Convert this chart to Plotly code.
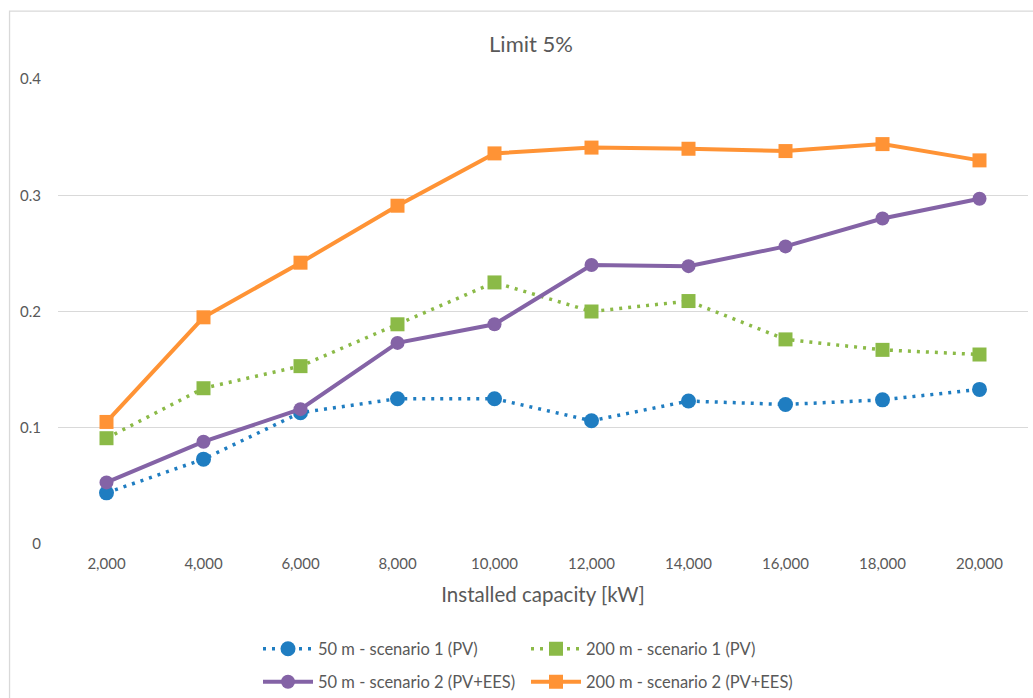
import plotly.graph_objects as go

capacity = ["2,000", "4,000", "6,000", "8,000", "10,000",
            "12,000", "14,000", "16,000", "18,000", "20,000"]

s1_50m = [0.044, 0.073, 0.113, 0.125, 0.125, 0.106, 0.123, 0.120, 0.124, 0.133]
s1_200m = [0.091, 0.134, 0.153, 0.189, 0.225, 0.200, 0.209, 0.176, 0.167, 0.163]
s2_50m = [0.053, 0.088, 0.116, 0.173, 0.189, 0.240, 0.239, 0.256, 0.280, 0.297]
s2_200m = [0.105, 0.195, 0.242, 0.291, 0.336, 0.341, 0.340, 0.338, 0.344, 0.330]

names = ["50 m - scenario 1 (PV)", "200 m - scenario 1 (PV)",
         "50 m - scenario 2 (PV+EES)", "200 m - scenario 2 (PV+EES)"]

BLUE = "#1F7DC1"
GREEN = "#8BBA47"
PURPLE = "#8463A6"
ORANGE = "#FF9335"
GRAY = "#595959"
FONT = "Lato"

fig = go.Figure()
fig.add_trace(go.Scatter(
    x=capacity, y=s1_50m, name=names[0], mode="lines+markers",
    line=dict(color=BLUE, width=3.5, dash="3px,6px"),
    marker=dict(symbol="circle", size=15, color=BLUE),
    legend="legend", showlegend=True))
fig.add_trace(go.Scatter(
    x=capacity, y=s1_200m, name=names[1], mode="lines+markers",
    line=dict(color=GREEN, width=3.5, dash="3px,6px"),
    marker=dict(symbol="square", size=14, color=GREEN),
    legend="legend2", showlegend=True))
fig.add_trace(go.Scatter(
    x=capacity, y=s2_50m, name=names[2], mode="lines+markers",
    line=dict(color=PURPLE, width=4),
    marker=dict(symbol="circle", size=14, color=PURPLE),
    legend="legend3", showlegend=True))
fig.add_trace(go.Scatter(
    x=capacity, y=s2_200m, name=names[3], mode="lines+markers",
    line=dict(color=ORANGE, width=4),
    marker=dict(symbol="square", size=14, color=ORANGE),
    legend="legend4", showlegend=True))

W, H = 1033, 698
L, R, T, B = 57.5, 4.5, 79, 153.7
pw = W - L - R
ph = H - T - B


def px_x(px):
    return (px - L) / pw


def px_y(py):
    return (H - B - py) / ph


def legend_at(px, py):
    # one legend box per entry, placed in a 2x2 grid below the axis
    return dict(
        x=px / W, y=1 - py / H, orientation="h",
        xanchor="left", yanchor="middle",
        xref="container", yref="container",
        font=dict(family=FONT, size=16.5, color=GRAY),
        bgcolor="rgba(0,0,0,0)", itemwidth=50, visible=True,
    )


col1, col2 = 258, 526
row1, row2 = 649, 682

fig.update_layout(
    width=W, height=H, showlegend=True,
    margin=dict(l=L, r=R, t=T, b=B, pad=0, autoexpand=False),
    paper_bgcolor="white", plot_bgcolor="white",
    font=dict(family=FONT, color=GRAY),
    title=dict(text="Limit 5%", x=px_x(531), xref="paper", xanchor="center",
               y=1 - 44 / H, yanchor="middle",
               font=dict(family=FONT, size=22, color=GRAY)),
    xaxis=dict(type="category", range=[-0.5, 9.5], showgrid=False,
               showline=False, zeroline=False, ticks="", automargin=False,
               ticklabelstandoff=9,
               tickfont=dict(family=FONT, size=15, color=GRAY),
               title=dict(text="Installed capacity [kW]", standoff=16,
                          font=dict(family=FONT, size=20.5, color=GRAY))),
    yaxis=dict(range=[0, 0.4], tickvals=[0, 0.1, 0.2, 0.3, 0.4],
               ticktext=["0", "0.1", "0.2", "0.3", "0.4"],
               showgrid=True, gridcolor="#D9D9D9", gridwidth=1,
               zeroline=False, showline=False, ticks="", automargin=False,
               ticklabelstandoff=16,
               tickfont=dict(family=FONT, size=15, color=GRAY)),
    legend=legend_at(col1, row1),
    legend2=legend_at(col2, row1),
    legend3=legend_at(col1, row2),
    legend4=legend_at(col2, row2),
    shapes=[dict(type="rect", xref="paper", yref="paper",
                 x0=px_x(9), x1=px_x(1045), y0=px_y(705), y1=px_y(11),
                 line=dict(color="#D9D9D9", width=1.3), layer="below")],
)

fig.write_html("out.html")
